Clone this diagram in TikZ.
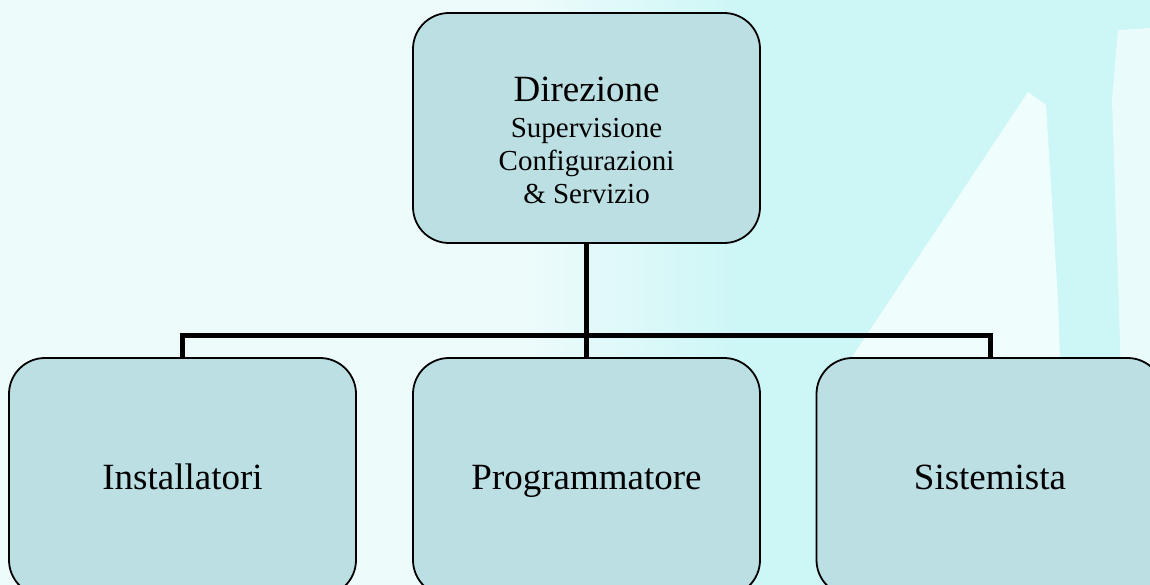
\documentclass[tikz,border=0pt]{standalone}
\usepackage{fontspec}
\setmainfont{Liberation Serif}
\definecolor{boxfill}{RGB}{187,223,227}
\definecolor{bgpale}{RGB}{238,251,251}
\definecolor{bgcyan}{RGB}{205,246,246}
\definecolor{bgwhite}{RGB}{240,253,253}
\tikzset{
  orgbox/.style={draw=black, line width=1.8pt, fill=boxfill, rounded corners=36pt,
    minimum width=347pt, minimum height=238pt, inner sep=0pt, align=center},
  toplabel/.style={align=center, inner sep=0pt, font=\fontsize{29}{33}\selectfont},
  botlabel/.style={font=\fontsize{37}{40}\selectfont, text height=25.3pt, text depth=0pt},
  link/.style={line width=5pt, draw=black, line join=miter}
}
\begin{document}
\begin{tikzpicture}[x=1pt,y=-1pt]
\useasboundingbox (0,0) rectangle (1150,585);
% background
\fill[bgpale] (0,0) rectangle (1150,585);
\shade[left color=bgpale, right color=bgcyan, draw=none] (520,0) rectangle (740,585);
\fill[bgcyan] (740,0) rectangle (1150,585);
\fill[bgwhite] (1028,92) -- (1046,105) -- (1058,300) -- (1062,420) -- (825,420) -- (850,360) -- cycle;
\fill[bgwhite, opacity=0.8] (1118,30) -- (1150,28) -- (1150,585) -- (1128,585) -- (1112,100) -- cycle;
% boxes
\node[orgbox, minimum height=230pt] (dir) at (586.5,128) {};
\node[toplabel] (dirtext) at (586.5,140) {{\fontsize{37}{40}\selectfont Direzione}\\[3pt]Supervisione\\Configurazioni\\\& Servizio};
\node[orgbox, botlabel] (inst) at (182.5,477) {Installatori};
\node[orgbox, botlabel] (prog) at (586.5,477) {Programmatore};
\node[orgbox, botlabel] (sist) at (990,477) {Sistemista};
% connectors
\coordinate (bus) at (586.5,335.5);
\draw[link] (dir.south) -- (prog.north);
\draw[link] (inst.north) |- (bus) -| (sist.north);
\end{tikzpicture}
\end{document}
